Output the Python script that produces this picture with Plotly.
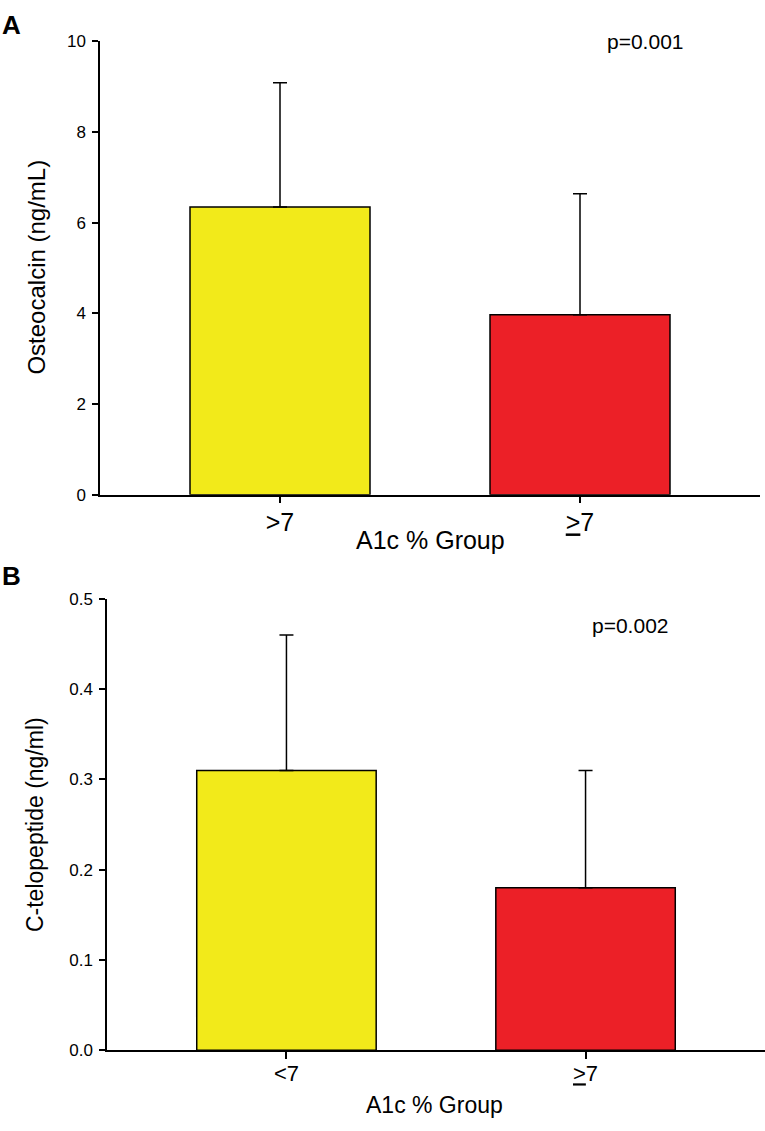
import plotly.graph_objects as go

# panel A: osteocalcin
groups_a = ["&gt;7", "<u>&gt;</u>7"]
osteocalcin_mean = [6.35, 3.97]
osteocalcin_sd = [2.74, 2.67]

# panel B: C-telopeptide
groups_b = ["&lt;7", "<u>&gt;</u>7"]
ctx_mean = [0.31, 0.18]
ctx_sd = [0.15, 0.13]

bar_colors = ["#F2EA1A", "#EC2027"]
W, H = 765, 1131
FONT = "Liberation Sans, Arial, sans-serif"


def px_x(p):
    return p / W


def px_y(p):
    return 1 - p / H


fig = go.Figure()

for groups, means, sds, xa, ya in [
    (groups_a, osteocalcin_mean, osteocalcin_sd, "x", "y"),
    (groups_b, ctx_mean, ctx_sd, "x2", "y2"),
]:
    fig.add_trace(go.Bar(
        x=groups, y=means, width=0.6,
        marker=dict(color=bar_colors, line=dict(color="black", width=1.5)),
        error_y=dict(type="data", array=sds, arrayminus=[0] * len(sds),
                     symmetric=False, color="black", thickness=1.5, width=7),
        xaxis=xa, yaxis=ya, showlegend=False,
    ))

axis_common = dict(showline=True, linecolor="black", linewidth=1.5,
                   ticks="outside", tickcolor="black", tickwidth=1.5,
                   showgrid=False, zeroline=False)

fig.update_layout(
    width=W, height=H,
    margin=dict(l=0, r=0, t=0, b=0),
    paper_bgcolor="white", plot_bgcolor="white",
    font=dict(family=FONT, color="black"),
    xaxis=dict(domain=[px_x(100), px_x(760)], range=[-0.6, 1.6], anchor="y",
               ticklen=7, tickfont=dict(size=25), ticklabelstandoff=-2, **axis_common),
    yaxis=dict(domain=[px_y(494), px_y(33)], range=[0, 10], anchor="x",
               tickvals=[0, 2, 4, 6, 8, 10], ticklen=6, tickfont=dict(size=17),
               ticklabelstandoff=3, **axis_common),
    xaxis2=dict(domain=[px_x(107), px_x(765)], range=[-0.6, 1.6], anchor="y2",
                ticklen=7, tickfont=dict(size=22), ticklabelstandoff=-4, **axis_common),
    yaxis2=dict(domain=[px_y(1059), px_y(600)], range=[0, 0.5], anchor="x2",
                tickvals=[0, 0.1, 0.2, 0.3, 0.4, 0.5], tickformat=".1f", ticklen=6,
                tickfont=dict(size=17), ticklabelstandoff=3, **axis_common),
)


def note(text, x, y, size, angle=0, bold=False):
    fig.add_annotation(
        text=f"<b>{text}</b>" if bold else text,
        x=px_x(x), y=px_y(y), xref="paper", yref="paper",
        xanchor="center", yanchor="middle", showarrow=False,
        textangle=angle, font=dict(size=size, family=FONT, color="black"),
    )


note("A", 11, 16, 26, bold=True)
note("B", 11, 577, 26, bold=True)
note("Osteocalcin (ng/mL)", 37, 263, 24, angle=-90)
note("C-telopeptide (ng/ml)", 35, 830, 23, angle=-90)
note("A1c % Group", 430, 540, 25)
note("A1c % Group", 434, 1115, 23)
note("p=0.001", 645, 33, 21)
note("p=0.002", 630, 627, 21)

# drop the browser's default body margin so the figure sits at the page corner
fig.write_html("out.html", config={"displayModeBar": False},
               post_script="document.body.style.margin='0';")
